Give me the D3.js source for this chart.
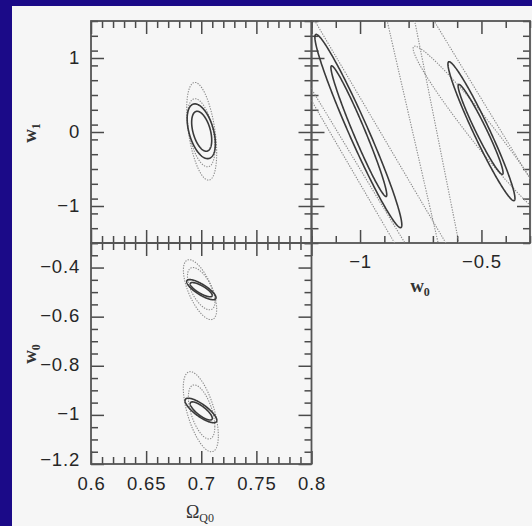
<!DOCTYPE html>
<html><head><meta charset="utf-8">
<script src="https://cdn.jsdelivr.net/npm/d3@7"></script>
<style>body{margin:0;background:#1b0a88;} svg{display:block}</style>
</head><body>
<script>
// ---- data ----
const omegaDomain = [0.6, 0.8];
const w1Domain = [-1.5, 1.5];
const w0Domain = [-1.2, -0.3];
const omegaMajor = [0.6, 0.65, 0.7, 0.75, 0.8];
const omegaLabels = ["0.6", "0.65", "0.7", "0.75", "0.8"];
const omegaMinorStep = 0.01;
const w1Major = [-1, 0, 1];
const w1Labels = ["−1", "0", "1"];
const w1MinorStep = 0.2;
const w0MajorY = [-1.2, -1, -0.8, -0.6, -0.4];
const w0LabelsY = ["−1.2", "−1", "−0.8", "−0.6", "−0.4"];
const w0MinorStepY = 0.05;
const w0MajorX = [-1, -0.5];
const w0LabelsX = ["−1", "−0.5"];
const w0MinorStepX = 0.1;

// contour ellipses: [centerX, centerY, halfWidthX, halfHeightY, correlation]
// top-left panel: Omega_Q0 vs w1
const tlSolid = [[0.7000, 0.010, 0.0128, 0.370, -0.45], [0.7004, 0.010, 0.0091, 0.270, -0.45]];
const tlDotted = [[0.7004, 0.010, 0.0136, 0.660, -0.45], [0.7000, -0.010, 0.0125, 0.460, -0.45]];
// bottom-left panel: Omega_Q0 vs w0
const blSolid = [[0.7001, -0.490, 0.0133, 0.041, -0.8], [0.7000, -0.490, 0.0100, 0.029, -0.8],
                 [0.6997, -0.982, 0.0144, 0.050, -0.8], [0.7000, -0.984, 0.0100, 0.037, -0.8]];
const blDotted = [[0.6989, -0.490, 0.0151, 0.122, -0.65], [0.7000, -0.486, 0.0125, 0.086, -0.6],
                  [0.6996, -0.987, 0.0159, 0.163, -0.6], [0.7003, -0.988, 0.0120, 0.110, -0.55]];
// top-right panel: w0 vs w1
const trSolid = [[-1.007, 0.013, 0.179, 1.306, -0.970], [-1.005, 0.011, 0.115, 0.883, -0.973],
                 [-0.500, 0.011, 0.138, 0.939, -0.965], [-0.5035, 0.035, 0.0926, 0.608, -0.965]];
const trDottedEllipses = [[-0.500, 0.000, 0.2814, 1.16, -0.974]];
// dotted contour traces in the top-right panel (w0, w1), partly outside the frame
const trDottedTraceA = [[-1.276, 0.986], [-1.2, 0.581], [-0.815, -1.5], [-0.771, -1.73]];
const trDottedTraceB = [[-1.237, 1.784], [-1.096, 1.0], [-0.740, -0.982], [-0.605, -1.73]];
const trDottedTraceC = [[-1.2975, 0.973], [-0.870, -1.432], [-0.817, -1.73]];
const trDottedTraceD = [[-0.908, 1.784], [-0.684, -1.419], [-0.662, -1.73]];
const trDottedTraceE = [[-0.792, 1.784], [-0.774, 1.486], [-0.601, -1.365], [-0.579, -1.73]];
const trDottedTraceF = [[-0.747, 1.784], [-0.685, 1.446], [-0.309, -0.581], [-0.177, -1.284]];

// ---- layout ----
const W = 532, H = 526;
const L = 91, M = 311.5, R = 530, T = 21, Mid = 243, B = 464;
const svg = d3.select("body").append("svg").attr("width", W).attr("height", H);
svg.append("rect").attr("width", W).attr("height", H).attr("fill", "#1b0a88");
svg.append("rect").attr("x", 12).attr("y", 6).attr("width", W - 12).attr("height", H - 6).attr("fill", "#f6f6f6");

const xOm = d3.scaleLinear(omegaDomain, [L, M]);
const yW1 = d3.scaleLinear(w1Domain, [Mid, T]);
const yW0 = d3.scaleLinear(w0Domain, [B, Mid]);
const xW0 = d3.scaleLinear(w0Domain, [M, R]);

function minors(domain, step) {
  const n = Math.round((domain[1] - domain[0]) / step);
  return d3.range(n + 1).map(i => +(domain[0] + i * step).toFixed(4));
}

const tickColor = "#4a4a4a";
function drawAxis(axisFn, scale, major, labels, minorStep, transform, withLabels, pad) {
  const g = svg.append("g").attr("transform", transform);
  const mn = minors(scale.domain(), minorStep).filter(v => !major.some(m => Math.abs(m - v) < 1e-6));
  const minorAxis = axisFn(scale).tickValues(mn).tickSizeInner(-7).tickSizeOuter(0).tickFormat("");
  const gm = g.append("g").call(minorAxis);
  const majorAxis = axisFn(scale).tickValues(major).tickSizeInner(-13).tickSizeOuter(0)
    .tickPadding(pad || 10)
    .tickFormat((d, i) => withLabels ? labels[i] : "");
  const gM = g.append("g").call(majorAxis);
  [gm, gM].forEach(s => {
    s.select(".domain").remove();
    s.selectAll("line").attr("stroke", tickColor).attr("stroke-width", 1.5);
    s.selectAll("text").attr("fill", "#262626").style("font-family", "'Liberation Sans', Arial, sans-serif")
      .style("font-size", "18.5px").style("letter-spacing", "0.8px");
  });
  return gM;
}

// Top-left panel
drawAxis(d3.axisLeft, yW1, w1Major, w1Labels, w1MinorStep, `translate(${L},0)`, true, 11)
  .selectAll("text").attr("dy", "0.28em");
drawAxis(d3.axisRight, yW1, w1Major, w1Labels, w1MinorStep, `translate(${M},0)`, false);
drawAxis(d3.axisTop, xOm, omegaMajor, omegaLabels, omegaMinorStep, `translate(0,${T})`, false);
drawAxis(d3.axisBottom, xOm, omegaMajor, omegaLabels, omegaMinorStep, `translate(0,${Mid})`, false);
// Bottom-left panel
drawAxis(d3.axisLeft, yW0, w0MajorY, w0LabelsY, w0MinorStepY, `translate(${L},0)`, true, 11)
  .selectAll("text").attr("dy", (d) => d === -1.2 ? "0.1em" : "0.25em");
drawAxis(d3.axisRight, yW0, w0MajorY, w0LabelsY, w0MinorStepY, `translate(${M},0)`, false);
drawAxis(d3.axisTop, xOm, omegaMajor, omegaLabels, omegaMinorStep, `translate(0,${Mid})`, false);
drawAxis(d3.axisBottom, xOm, omegaMajor, omegaLabels, omegaMinorStep, `translate(0,${B})`, true, 13);
// Top-right panel
drawAxis(d3.axisLeft, yW1, w1Major, w1Labels, w1MinorStep, `translate(${M},0)`, false);
drawAxis(d3.axisRight, yW1, w1Major, w1Labels, w1MinorStep, `translate(${R},0)`, false);
drawAxis(d3.axisTop, xW0, w0MajorX, w0LabelsX, w0MinorStepX, `translate(0,${T})`, false);
drawAxis(d3.axisBottom, xW0, w0MajorX, w0LabelsX, w0MinorStepX, `translate(0,${Mid})`, true, 12);

// frames
const frameColor = "#555";
[[L, T, M, Mid], [M, T, R, Mid], [L, Mid, M, B]].forEach(([x0, y0, x1, y1]) => {
  svg.append("rect").attr("x", x0).attr("y", y0).attr("width", x1 - x0).attr("height", y1 - y0)
    .attr("fill", "none").attr("stroke", frameColor).attr("stroke-width", 1.8);
});

// contours
const defs = svg.append("defs");
function clip(id, x0, y0, x1, y1) {
  defs.append("clipPath").attr("id", id).append("rect").attr("x", x0).attr("y", y0)
    .attr("width", x1 - x0).attr("height", y1 - y0);
}
clip("cTL", L, T, M, Mid); clip("cTR", M, T, R, Mid); clip("cBL", L, Mid, M, B);

function ellipsePts(e) {
  const [cx, cy, a, b, r] = e, s = Math.sqrt(1 - r * r);
  return d3.range(241).map(i => { const t = 2 * Math.PI * i / 240;
    return [cx + a * Math.cos(t), cy + b * (r * Math.cos(t) + s * Math.sin(t))]; });
}
function styleLine(sel, dotted) {
  sel.attr("fill", "none")
    .attr("stroke", dotted ? "#8a8a8a" : "#3a3a3a")
    .attr("stroke-width", dotted ? 1.1 : 1.6)
    .attr("stroke-dasharray", dotted ? "1.3,1.3" : null);
}
function drawContours(list, xs, ys, clipId, dotted) {
  const line = d3.line().x(d => xs(d[0])).y(d => ys(d[1]));
  svg.append("g").attr("clip-path", `url(#${clipId})`).selectAll("path").data(list).join("path")
    .attr("d", e => line(ellipsePts(e))).call(styleLine, dotted);
}
function drawTraces(list, xs, ys, clipId) {
  const line = d3.line().x(d => xs(d[0])).y(d => ys(d[1])).curve(d3.curveCatmullRom.alpha(0.5));
  svg.append("g").attr("clip-path", `url(#${clipId})`).selectAll("path").data(list).join("path")
    .attr("d", line).call(styleLine, true);
}
drawContours(tlDotted, xOm, yW1, "cTL", true);
drawContours(tlSolid, xOm, yW1, "cTL", false);
drawContours(blDotted, xOm, yW0, "cBL", true);
drawContours(blSolid, xOm, yW0, "cBL", false);
drawTraces([trDottedTraceA, trDottedTraceB, trDottedTraceC, trDottedTraceD, trDottedTraceE, trDottedTraceF],
  xW0, yW1, "cTR");
drawContours(trDottedEllipses, xW0, yW1, "cTR", true);
drawContours(trSolid, xW0, yW1, "cTR", false);

// axis titles
const serif = "'Liberation Serif', 'DejaVu Serif', serif";
function wLabel(sub, x, y, rot) {
  const t = svg.append("text").attr("transform", `translate(${x},${y}) rotate(${rot})`)
    .attr("text-anchor", "middle").attr("fill", "#333").style("font-family", serif)
    .style("font-size", "19px").style("font-weight", "bold");
  t.append("tspan").text("w");
  t.append("tspan").attr("dy", "0.3em").style("font-size", "12px").text(sub);
}
wLabel("1", 36, 133, -90);
wLabel("0", 36, 354, -90);
wLabel("0", 420, 292, 0);
const om = svg.append("text").attr("x", 200).attr("y", 518).attr("text-anchor", "middle")
  .attr("fill", "#333").style("font-family", serif).style("font-size", "18px");
om.append("tspan").text("Ω");
om.append("tspan").attr("dy", "0.3em").style("font-size", "12px").text("Q0");
</script>
</body></html>
